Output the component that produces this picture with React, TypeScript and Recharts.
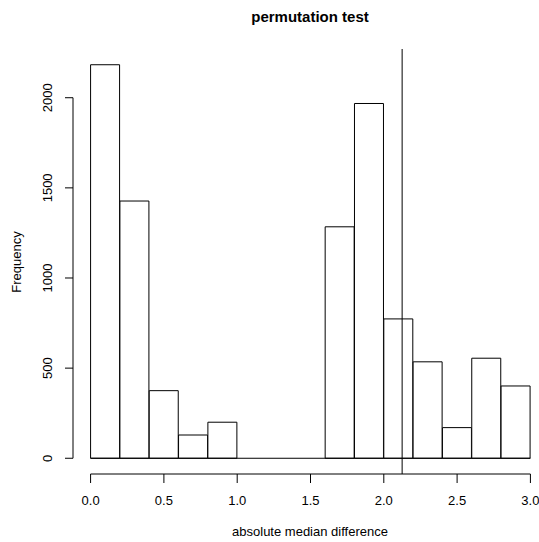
import React from 'react';
import { ComposedChart, Bar, XAxis, YAxis, ReferenceLine } from 'recharts';

// histogram breaks and counts
const breaks = [0, 0.2, 0.4, 0.6, 0.8, 1.0, 1.2, 1.4, 1.6, 1.8, 2.0, 2.2, 2.4, 2.6, 2.8, 3.0];
const counts = [2183, 1427, 375, 129, 200, 0, 0, 0, 1284, 1968, 773, 535, 170, 555, 401];
const xTicks = [0, 0.5, 1.0, 1.5, 2.0, 2.5, 3.0];
const yTicks = [0, 500, 1000, 1500, 2000];
const observed = 2.125;

const data = counts.map((c, i) => ({ mid: (breaks[i] + breaks[i + 1]) / 2, count: c }));

// R style 4% axis extension
const xMin = breaks[0], xMax = breaks[breaks.length - 1];
const xPad = (xMax - xMin) * 0.04;
const yMax = Math.max(...counts);
const yPad = yMax * 0.04;

const FONT = '"Liberation Sans", Arial, sans-serif';

const XTick = ({ x, payload }: any) => (
  <text x={x} y={505} textAnchor="middle" fontSize={13} fontFamily={FONT} fill="#000">
    {payload.value.toFixed(1)}
  </text>
);

const YTick = ({ y, payload }: any) => (
  <text x={52} y={y} transform={`rotate(-90, 52, ${y})`} textAnchor="middle" fontSize={13} fontFamily={FONT} fill="#000">
    {payload.value}
  </text>
);

export default function App() {
  return (
    <div style={{ position: 'absolute', left: 0, top: 0, width: 539, height: 542, overflow: 'hidden', background: '#fff' }}>
      <ComposedChart
        width={560}
        height={542}
        data={data}
        margin={{ top: 49, right: 12, bottom: 0, left: 0 }}
        barCategoryGap={0}
        barGap={0}
      >
        <XAxis
          dataKey="mid"
          type="number"
          domain={[xMin - xPad, xMax + xPad]}
          allowDataOverflow
          ticks={xTicks}
          interval={0}
          axisLine={false}
          tickLine={{ stroke: '#000' }}
          tickSize={9}
          height={68}
          tick={<XTick />}
        />
        <YAxis
          type="number"
          domain={[-yPad, yMax + yPad]}
          allowDataOverflow
          ticks={yTicks}
          interval={0}
          axisLine={false}
          tickLine={{ stroke: '#000' }}
          tickSize={8}
          width={73}
          tick={<YTick />}
        />
        {/* axis lines only span the tick range, like base R */}
        <ReferenceLine
          segment={[{ x: xTicks[0], y: -yPad }, { x: xTicks[xTicks.length - 1], y: -yPad }]}
          stroke="#000"
          ifOverflow="visible"
        />
        <ReferenceLine
          segment={[{ x: xMin - xPad, y: yTicks[0] }, { x: xMin - xPad, y: yTicks[yTicks.length - 1] }]}
          stroke="#000"
          ifOverflow="visible"
        />
        <ReferenceLine
          segment={[{ x: xMin, y: 0 }, { x: xMax, y: 0 }]}
          stroke="#000"
        />
        <Bar dataKey="count" fill="#fff" stroke="#000" strokeWidth={1} isAnimationActive={false} />
        <ReferenceLine x={observed} stroke="#000" />
        <text x={310} y={22} textAnchor="middle" fontSize={15} fontWeight="bold" fontFamily={FONT} fill="#000">
          permutation test
        </text>
        <text x={310} y={536} textAnchor="middle" fontSize={13} fontFamily={FONT} fill="#000">
          absolute median difference
        </text>
        <text x={21} y={262} transform="rotate(-90, 21, 262)" textAnchor="middle" fontSize={13} fontFamily={FONT} fill="#000">
          Frequency
        </text>
      </ComposedChart>
    </div>
  );
}
